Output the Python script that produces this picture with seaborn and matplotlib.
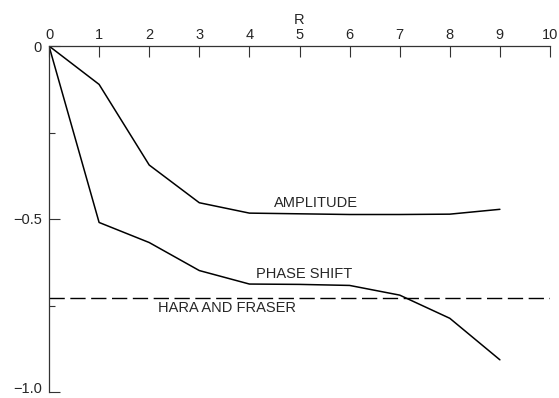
import matplotlib
matplotlib.use("Agg")
import matplotlib.pyplot as plt
import matplotlib.transforms as mtransforms
import seaborn as sns
import pandas as pd
from matplotlib.ticker import FixedLocator

# Data
r_values = [0, 1, 2, 3, 4, 5, 6, 7, 8, 9]
amplitude = [0.0, -0.111, -0.344, -0.453, -0.483, -0.485, -0.487, -0.487, -0.486, -0.472]
phase_shift = [0.0, -0.51, -0.568, -0.649, -0.688, -0.689, -0.692, -0.72, -0.787, -0.907]
hara_fraser = -0.727

x_ticks = list(range(0, 11))
y_major = [0.0, -0.5, -1.0]
y_major_labels = ["0", "\u22120.5", "\u22121.0"]
y_minor = [-0.25, -0.75]

df = pd.DataFrame({
    "R": r_values * 2,
    "value": amplitude + phase_shift,
    "curve": ["AMPLITUDE"] * len(r_values) + ["PHASE SHIFT"] * len(r_values),
})

sns.set_style("ticks")
plt.rcParams["font.family"] = ["Liberation Sans", "DejaVu Sans"]

fig = plt.figure(figsize=(5.59, 3.98), dpi=100)
ax = fig.add_axes([49 / 559, 6 / 398, 501 / 559, 346 / 398])

sns.lineplot(data=df, x="R", y="value", units="curve", estimator=None,
             color="black", linewidth=1.1, ax=ax, legend=False)
ax.axhline(hara_fraser, color="black", linewidth=1.0, dashes=(11, 4))

ax.set_xlim(0, 10)
ax.set_ylim(-1.0, 0)

# axes on top and left only
for side in ("bottom", "right"):
    ax.spines[side].set_visible(False)
for side in ("top", "left"):
    ax.spines[side].set_linewidth(0.9)
    ax.spines[side].set_color("#333333")

ax.xaxis.tick_top()
ax.xaxis.set_label_position("top")
ax.set_xticks(x_ticks)
ax.set_xticklabels([str(t) for t in x_ticks])
ax.set_xlabel("R", fontsize=10.5, labelpad=3)
ax.set_ylabel("")

ax.yaxis.set_major_locator(FixedLocator(y_major))
ax.set_yticklabels(y_major_labels)
ax.yaxis.set_minor_locator(FixedLocator(y_minor))

ax.tick_params(axis="x", which="major", direction="in", length=8, width=0.8,
               pad=3, labelsize=10.5, color="#333333")
ax.tick_params(axis="y", which="major", direction="in", length=8, width=0.8,
               pad=5, labelsize=10.5, color="#333333")
ax.tick_params(axis="y", which="minor", direction="in", length=4, width=0.8,
               color="#333333")

# keep the lowest tick label inside the figure
fig.canvas.draw()
lowest = ax.get_yticklabels()[-1]
lowest.set_transform(lowest.get_transform()
                     + mtransforms.ScaledTranslation(0, 3 / 72, fig.dpi_scale_trans))

# curve labels
ax.text(5.33, -0.453, "AMPLITUDE", ha="center", va="center", fontsize=10.5)
ax.text(5.09, -0.66, "PHASE SHIFT", ha="center", va="center", fontsize=10.5)
ax.text(3.56, -0.758, "HARA AND FRASER", ha="center", va="center", fontsize=10.5)

fig.savefig("out.png", dpi=100)
